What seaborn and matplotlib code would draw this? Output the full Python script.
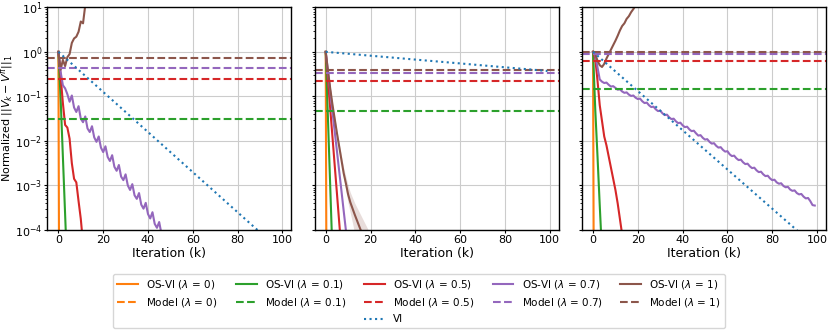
import numpy as np
import matplotlib
matplotlib.use("Agg")
import matplotlib.pyplot as plt
from matplotlib.lines import Line2D
import seaborn as sns

# all curve readings are powers of ten (log10 of the normalized error),
# one value per iteration k = 0, 1, 2, ...
lambdas = ["0", "0.1", "0.5", "0.7", "1"]
colors = ["tab:orange", "tab:green", "tab:red", "tab:purple", "tab:brown"]
vi_iters = [0, 10, 20, 30, 40, 50, 60, 70, 80, 90, 99]

# ---- left panel
left_vi = [0, -0.45, -0.9, -1.35, -1.8, -2.25, -2.7, -3.15, -3.6, -4.05, -4.46]
left_osvi_0 = [0, -16]
left_osvi_01 = [0, -1.05, -2.35, -3.65, -4.95]
left_osvi_05 = [0, -0.55, -1.15, -1.64, -1.7, -1.95, -2.5, -2.85, -2.93, -3.35, -3.75, -4.3]
left_osvi_07 = [0, -0.45, -0.75, -0.82, -0.95, -1.12, -0.98, -1.25, -1.35, -1.22,
                -1.50, -1.58, -1.45, -1.72, -1.80, -1.67, -1.92, -2.02, -1.90, -2.15,
                -2.25, -2.12, -2.36, -2.45, -2.32, -2.58, -2.67, -2.54, -2.80, -2.88,
                -2.75, -3.00, -3.10, -2.97, -3.22, -3.30, -3.17, -3.43, -3.52, -3.39,
                -3.64, -3.74, -3.60, -3.86, -3.95, -3.82, -4.08, -4.18]
left_osvi_1 = [0, -0.4, -0.18, -0.32, -0.12, -0.05, 0.2, 0.3, 0.34, 0.45, 0.68, 0.64, 1.05, 1.3]
left_model = [0.0, 0.031, 0.25, 0.43, 0.72]

# ---- middle panel
mid_vi = [0, -0.043, -0.087, -0.13, -0.174, -0.217, -0.26, -0.304, -0.347, -0.39, -0.43]
mid_osvi_0 = [0, -16]
mid_osvi_01 = [0, -1.5, -3.0, -4.5]
mid_osvi_05 = [0, -0.63, -1.27, -1.9, -2.54, -3.17, -3.81, -4.44]
mid_osvi_07 = [0, -0.44, -0.89, -1.33, -1.78, -2.22, -2.67, -3.11, -3.56, -4.0, -4.44]
mid_osvi_1 = [0, -0.42, -0.82, -1.18, -1.50, -1.82, -2.12, -2.42, -2.72, -2.95, -3.20,
              -3.38, -3.52, -3.66, -3.79, -3.92, -4.05, -4.18, -4.31, -4.44, -4.57]
mid_osvi_1_low = [0, -0.44, -0.85, -1.22, -1.55, -1.88, -2.20, -2.52, -2.85, -3.12, -3.40,
                  -3.62, -3.85, -4.10, -4.40, -4.70, -5.00, -5.30, -5.60, -5.90, -6.20]
mid_osvi_1_high = [0, -0.40, -0.79, -1.14, -1.45, -1.76, -2.05, -2.33, -2.60, -2.80, -3.00,
                   -3.16, -3.28, -3.40, -3.50, -3.60, -3.70, -3.80, -3.90, -4.00, -4.10]
mid_model = [0.0, 0.048, 0.22, 0.33, 0.39]

# ---- right panel
right_vi = [0, -0.44, -0.88, -1.32, -1.76, -2.2, -2.64, -3.08, -3.52, -3.96, -4.36]
right_osvi_0 = [0, -16]
right_osvi_01 = [0, -1.3, -2.35, -3.45, -4.5]
right_osvi_05 = [0, -0.15, -0.65, -1.2, -1.55, -1.9, -2.1, -2.35, -2.6, -2.85, -3.1, -3.4, -3.75, -4.1]
right_osvi_07 = [0, -0.08, -0.35, -0.62, -0.67, -0.70, -0.69, -0.74, -0.78, -0.77,
                 -0.81, -0.85, -0.84, -0.89, -0.92, -0.91, -0.96, -0.99, -0.98, -1.03,
                 -1.06, -1.05, -1.11, -1.15, -1.14, -1.20, -1.24, -1.23, -1.29, -1.33,
                 -1.32, -1.38, -1.42, -1.41, -1.47, -1.51, -1.50, -1.56, -1.60, -1.59,
                 -1.65, -1.69, -1.68, -1.74, -1.78, -1.77, -1.83, -1.88, -1.87, -1.93,
                 -1.97, -1.96, -2.02, -2.06, -2.05, -2.11, -2.15, -2.14, -2.20, -2.24,
                 -2.23, -2.30, -2.34, -2.33, -2.39, -2.43, -2.42, -2.48, -2.52, -2.51,
                 -2.57, -2.61, -2.60, -2.66, -2.70, -2.69, -2.75, -2.79, -2.78, -2.84,
                 -2.88, -2.87, -2.93, -2.96, -2.95, -3.01, -3.04, -3.03, -3.09, -3.12,
                 -3.11, -3.17, -3.20, -3.19, -3.25, -3.29, -3.28, -3.35, -3.44, -3.45]
right_osvi_1 = [0, -0.05, -0.2, -0.3, -0.34, -0.27, -0.15, -0.05, 0.05, 0.15, 0.25,
                0.36, 0.48, 0.58, 0.64, 0.74, 0.80, 0.89, 0.96, 1.04, 1.12]
right_model = [0.0, 0.147, 0.63, 0.90, 0.975]

panels = [
    (left_vi, [left_osvi_0, left_osvi_01, left_osvi_05, left_osvi_07, left_osvi_1], left_model, None),
    (mid_vi, [mid_osvi_0, mid_osvi_01, mid_osvi_05, mid_osvi_07, mid_osvi_1], mid_model,
     (mid_osvi_1_low, mid_osvi_1_high)),
    (right_vi, [right_osvi_0, right_osvi_01, right_osvi_05, right_osvi_07, right_osvi_1], right_model, None),
]

fig, axes = plt.subplots(1, 3, figsize=(8.3, 3.31), dpi=100, sharey=True)
fig.subplots_adjust(left=0.057, right=0.995, top=0.978, bottom=0.305, wspace=0.096)

for ax, (vi, curves, models, band) in zip(axes, panels):
    ax.set_yscale("log")
    ax.set_ylim(1e-4, 10)
    ax.set_xlim(-4.95, 103.95)
    for lam, col, curve in zip(lambdas, colors, curves):
        k = np.arange(len(curve))
        sns.lineplot(x=k, y=10.0 ** np.asarray(curve), color=col, lw=1.5,
                     label=rf"OS-VI ($\lambda$ = {lam})", legend=False, ax=ax)
    if band is not None:
        kb = np.arange(len(band[0]))
        ax.fill_between(kb, 10.0 ** np.asarray(band[0]), 10.0 ** np.asarray(band[1]),
                        color="tab:brown", alpha=0.2, lw=0)
    for lam, col, m in zip(lambdas, colors, models):
        if m > 0:
            ax.axhline(m, color=col, ls="--", lw=1.5, label=rf"Model ($\lambda$ = {lam})")
    sns.lineplot(x=vi_iters, y=10.0 ** np.asarray(vi), color="tab:blue", lw=1.5,
                 linestyle=":", label="VI", legend=False, ax=ax)
    ax.grid(True, color="#cccccc", lw=0.8)
    ax.set_axisbelow(True)
    for sp in ax.spines.values():
        sp.set_linewidth(1.0)
    ax.set_xlabel("Iteration (k)", fontsize=9, labelpad=1)
    ax.set_ylabel("")
    ax.tick_params(which="major", labelsize=8, length=2.5, pad=1.2)
    ax.tick_params(which="minor", length=1.5)

axes[0].set_ylabel(r"Normalized $||V_k - V^{\pi}||_1$", fontsize=8)
axes[0].yaxis.set_label_coords(-0.133, 0.5)

# legend laid out column by column, with blanks so VI sits under the 0.5 column
osvi = [Line2D([], [], color=c, lw=1.5) for c in colors]
model = [Line2D([], [], color=c, lw=1.5, ls="--") for c in colors]
vi_h = Line2D([], [], color="tab:blue", lw=1.5, ls=":")
blank = Line2D([], [], ls="none")
handles, labels = [], []
for i, lam in enumerate(lambdas):
    handles += [osvi[i], model[i]]
    labels += [rf"OS-VI ($\lambda$ = {lam})", rf"Model ($\lambda$ = {lam})"]
    if lam == "0.5":
        handles.append(vi_h)
        labels.append("VI")
    else:
        handles.append(blank)
        labels.append("")
fig.legend(handles, labels, ncol=5, loc="lower center", bbox_to_anchor=(0.505, -0.008),
           fontsize=7.5, columnspacing=1.7)

fig.savefig("out.png", dpi=100)
